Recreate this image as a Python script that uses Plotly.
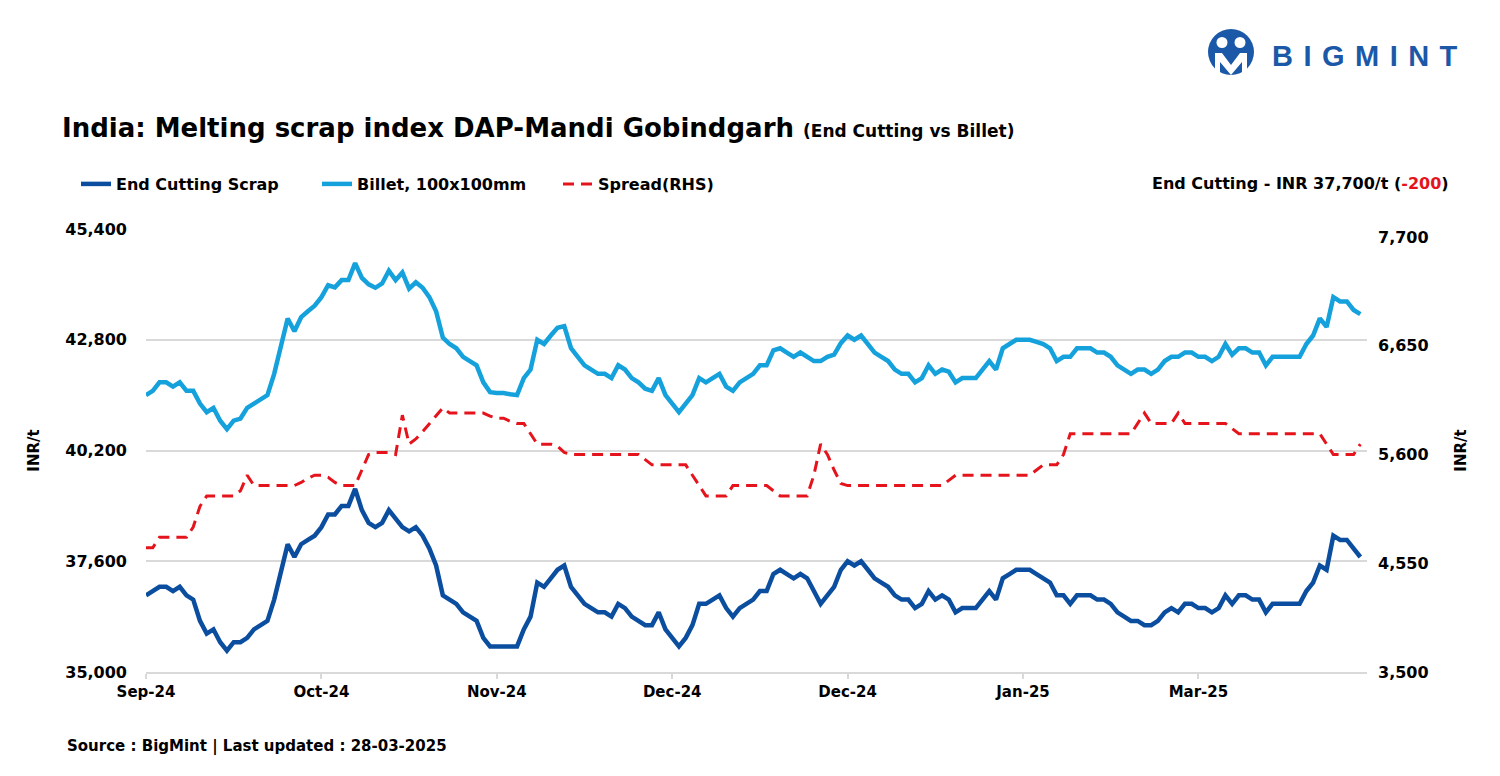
import plotly.graph_objects as go

# ---------------- data ----------------
scrap = [
    36800, 36900, 37000, 37000, 36900, 37000, 36800, 36700, 36200, 35900,
    36000, 35700, 35500, 35700, 35700, 35800, 36000, 36100, 36200, 36700,
    37400, 38000, 37700, 38000, 38100, 38200, 38400, 38700, 38700, 38900,
    38900, 39300, 38800, 38500, 38400, 38500, 38800, 38600, 38400, 38300,
    38400, 38200, 37900, 37500, 36800, 36700, 36600, 36400, 36300, 36200,
    35800, 35600, 35600, 35600, 35600, 35600, 36000, 36300, 37100, 37000,
    37200, 37400, 37500, 37000, 36800, 36600, 36500, 36400, 36400, 36300,
    36600, 36500, 36300, 36200, 36100, 36100, 36400, 36000, 35800, 35600,
    35800, 36100, 36600, 36600, 36700, 36800, 36500, 36300, 36500, 36600,
    36700, 36900, 36900, 37300, 37400, 37300, 37200, 37300, 37200, 36900,
    36600, 36800, 37000, 37400, 37600, 37500, 37600, 37400, 37200, 37100,
    37000, 36800, 36700, 36700, 36500, 36600, 36900, 36700, 36800, 36700,
    36400, 36500, 36500, 36500, 36700, 36900, 36700, 37200, 37300, 37400,
    37400, 37400, 37300, 37200, 37100, 36800, 36800, 36600, 36800, 36800,
    36800, 36700, 36700, 36600, 36400, 36300, 36200, 36200, 36100, 36100,
    36200, 36400, 36500, 36400, 36600, 36600, 36500, 36500, 36400, 36500,
    36800, 36600, 36800, 36800, 36700, 36700, 36400, 36600, 36600, 36600,
    36600, 36600, 36900, 37100, 37500, 37400, 38200, 38100, 38100, 37900,
    37700,
]

billet = [
    41500, 41600, 41800, 41800, 41700, 41800, 41600, 41600, 41300, 41100,
    41200, 40900, 40700, 40900, 40950, 41200, 41300, 41400, 41500, 42000,
    42700, 43300, 43000, 43330, 43470, 43600, 43800, 44080, 44030, 44200,
    44200, 44600, 44250, 44100, 44020, 44120, 44420, 44200, 44380, 44000,
    44150, 44020, 43800, 43470, 42850, 42700, 42600, 42400, 42300, 42200,
    41800, 41570, 41550, 41550, 41520, 41500, 41900, 42100, 42800, 42700,
    42900, 43080, 43120, 42600, 42400, 42200, 42100, 42000, 42000, 41900,
    42200, 42100, 41900, 41800, 41650, 41600, 41900, 41500, 41300, 41100,
    41300, 41500, 41900, 41800, 41900, 42000, 41700, 41600, 41800, 41900,
    42000, 42200, 42200, 42550, 42600, 42500, 42400, 42500, 42400, 42300,
    42300, 42400, 42450, 42720, 42900, 42800, 42900, 42700, 42500, 42400,
    42300, 42100, 42000, 42000, 41800, 41900, 42200, 42000, 42100, 42050,
    41800, 41900, 41900, 41900, 42100, 42300, 42100, 42600, 42700, 42800,
    42800, 42800, 42750, 42700, 42600, 42300, 42400, 42400, 42600, 42600,
    42600, 42500, 42500, 42400, 42200, 42100, 42000, 42100, 42100, 42000,
    42100, 42300, 42400, 42400, 42500, 42500, 42400, 42400, 42300, 42400,
    42700, 42450, 42600, 42600, 42500, 42500, 42200, 42400, 42400, 42400,
    42400, 42400, 42700, 42900, 43300, 43100, 43800, 43700, 43700, 43500,
    43400,
]

spread = [
    4700, 4700, 4800, 4800, 4800, 4800, 4800, 4900, 5100, 5200,
    5200, 5200, 5200, 5200, 5250, 5400, 5300, 5300, 5300, 5300,
    5300, 5300, 5300, 5330, 5370, 5400, 5400, 5380, 5330, 5300,
    5300, 5300, 5450, 5600, 5620, 5620, 5620, 5600, 5980, 5700,
    5750, 5820, 5900, 5970, 6050, 6000, 6000, 6000, 6000, 6000,
    6000, 5970, 5950, 5950, 5920, 5900, 5900, 5800, 5700, 5700,
    5700, 5680, 5620, 5600, 5600, 5600, 5600, 5600, 5600, 5600,
    5600, 5600, 5600, 5600, 5550, 5500, 5500, 5500, 5500, 5500,
    5500, 5400, 5300, 5200, 5200, 5200, 5200, 5300, 5300, 5300,
    5300, 5300, 5300, 5250, 5200, 5200, 5200, 5200, 5200, 5400,
    5700, 5600, 5450, 5320, 5300, 5300, 5300, 5300, 5300, 5300,
    5300, 5300, 5300, 5300, 5300, 5300, 5300, 5300, 5300, 5350,
    5400, 5400, 5400, 5400, 5400, 5400, 5400, 5400, 5400, 5400,
    5400, 5400, 5450, 5500, 5500, 5500, 5600, 5800, 5800, 5800,
    5800, 5800, 5800, 5800, 5800, 5800, 5800, 5900, 6000, 5900,
    5900, 5900, 5900, 6000, 5900, 5900, 5900, 5900, 5900, 5900,
    5900, 5850, 5800, 5800, 5800, 5800, 5800, 5800, 5800, 5800,
    5800, 5800, 5800, 5800, 5800, 5700, 5600, 5600, 5600, 5600,
    5700,
]

tick_labels = ["Sep-24", "Oct-24", "Nov-24", "Dec-24", "Dec-24", "Jan-25", "Mar-25"]
left_ticks = [35000, 37600, 40200, 42800, 45400]
right_ticks = [3500, 4550, 5600, 6650, 7700]

# ---------------- geometry / style ----------------
W, H = 1500, 776
L, R, T, B = 146, 1367, 229, 672
LABEL_STEP = 26
RIGHT_MAX = 7777
FONT = "DejaVu Sans"
C_SCRAP = "#0b4e9f"
C_BILLET = "#15a1dc"
C_SPREAD = "#e5141c"
C_GRID = "#d9d9d9"
C_LOGO = "#1c58a8"

n = len(scrap)
x = list(range(n))
tickvals = [i * LABEL_STEP for i in range(len(tick_labels))]


def px_x(p):
    return (p - L) / (R - L)


def px_y(p):
    return (B - p) / (B - T)


fig = go.Figure()
fig.add_trace(go.Scatter(x=x, y=scrap, name="End Cutting Scrap", mode="lines",
                         line=dict(color=C_SCRAP, width=4.5)))
fig.add_trace(go.Scatter(x=x, y=billet, name="Billet, 100x100mm", mode="lines",
                         line=dict(color=C_BILLET, width=4.5)))
fig.add_trace(go.Scatter(x=x, y=spread, name="Spread(RHS)", mode="lines", yaxis="y2",
                         line=dict(color=C_SPREAD, width=3, dash="11px,7px")))

title_text = ("India: Melting scrap index DAP-Mandi Gobindgarh "
              "<span style='font-size:17px'>(End Cutting vs Billet)</span>")

last = scrap[-1]
chg = scrap[-1] - scrap[-2]
info_text = (f"End Cutting - INR {last:,}/t "
             f"(<span style='color:{C_SPREAD}'>{chg:,}</span>)")

fig.update_layout(
    width=W, height=H,
    margin=dict(l=L, r=W - R, t=T, b=H - B, autoexpand=False),
    paper_bgcolor="white", plot_bgcolor="white",
    font=dict(family=FONT, size=16, color="#000000"),
    title=dict(text=title_text, xref="container", x=62 / W, xanchor="left",
               yref="container", y=1 - 128 / H, yanchor="middle",
               font=dict(family=FONT, size=26, weight="bold", color="#000000")),
    showlegend=True,
    legend=dict(orientation="h", xref="container", x=76 / W, xanchor="left",
                yref="container", y=1 - 184 / H, yanchor="middle",
                font=dict(family=FONT, size=16, weight="bold"),
                entrywidth=196, entrywidthmode="pixels",
                bgcolor="rgba(0,0,0,0)", traceorder="normal"),
    xaxis=dict(range=[0, n - 1 + 0.99], tickmode="array", tickvals=tickvals,
               ticktext=tick_labels, showgrid=False, zeroline=False,
               showline=True, linecolor=C_GRID, linewidth=2,
               ticks="outside", ticklen=5, tickwidth=1.5, tickcolor=C_GRID,
               tickfont=dict(family=FONT, size=15, weight="bold")),
    yaxis=dict(range=[35000, 45400], tickmode="array", tickvals=left_ticks,
               tickformat=",", showgrid=True, gridcolor=C_GRID, gridwidth=2,
               zeroline=False, showline=False, ticks="", ticklabelstandoff=18,
               tickfont=dict(family=FONT, size=16, weight="bold"),
               title=dict(text="INR/t", standoff=22,
                          font=dict(family=FONT, size=15, weight="bold"))),
    yaxis2=dict(overlaying="y", side="right", range=[3500, RIGHT_MAX],
                tickmode="array", tickvals=right_ticks, tickformat=",",
                showgrid=False, zeroline=False, showline=False, ticks="",
                ticklabelstandoff=10,
                tickfont=dict(family=FONT, size=16, weight="bold"),
                title=dict(text="INR/t", standoff=27,
                           font=dict(family=FONT, size=15, weight="bold"))),
)

# right-hand info text and source line
fig.add_annotation(text=info_text, xref="paper", yref="paper",
                   x=px_x(1451), y=px_y(184), xanchor="right", yanchor="middle",
                   showarrow=False, font=dict(family=FONT, size=16, weight="bold"))
fig.add_annotation(text="Source : BigMint | Last updated : 28-03-2025",
                   xref="paper", yref="paper", x=px_x(65), y=px_y(746),
                   xanchor="left", yanchor="middle", showarrow=False,
                   font=dict(family=FONT, size=15, weight="bold"))

# BigMint logo
cx, cy, r = 1231, 52, 23
fig.add_shape(type="circle", xref="paper", yref="paper",
              x0=px_x(cx - r), x1=px_x(cx + r), y0=px_y(cy + r), y1=px_y(cy - r),
              fillcolor=C_LOGO, line=dict(width=0), layer="above")
for hx in (cx - 9, cx + 9):
    fig.add_shape(type="circle", xref="paper", yref="paper",
                  x0=px_x(hx - 5.5), x1=px_x(hx + 5.5), y0=px_y(cy - 4), y1=px_y(cy - 15),
                  fillcolor="white", line=dict(width=0), layer="above")
m_pts = [(cx - 16, cy + 22), (cx - 16, cy + 1), (cx - 9, cy + 1), (cx, cy + 13),
         (cx + 9, cy + 1), (cx + 16, cy + 1), (cx + 16, cy + 22), (cx + 11, cy + 22),
         (cx + 11, cy + 10), (cx, cy + 23), (cx - 11, cy + 10), (cx - 11, cy + 22)]
path = "M " + " L ".join(f"{px_x(a):.5f},{px_y(b):.5f}" for a, b in m_pts) + " Z"
fig.add_shape(type="path", xref="paper", yref="paper", path=path,
              fillcolor="white", line=dict(width=0), layer="above")
gap = " \u200a"
fig.add_annotation(text=gap.join("BIGMINT"), xref="paper", yref="paper",
                   x=px_x(1270), y=px_y(56), xanchor="left", yanchor="middle",
                   showarrow=False,
                   font=dict(family="Liberation Sans", size=29, weight="bold", color=C_LOGO))

fig.write_html("out.html", config={"displayModeBar": False},
               post_script="document.body.style.margin='0';document.body.style.overflow='hidden';")
